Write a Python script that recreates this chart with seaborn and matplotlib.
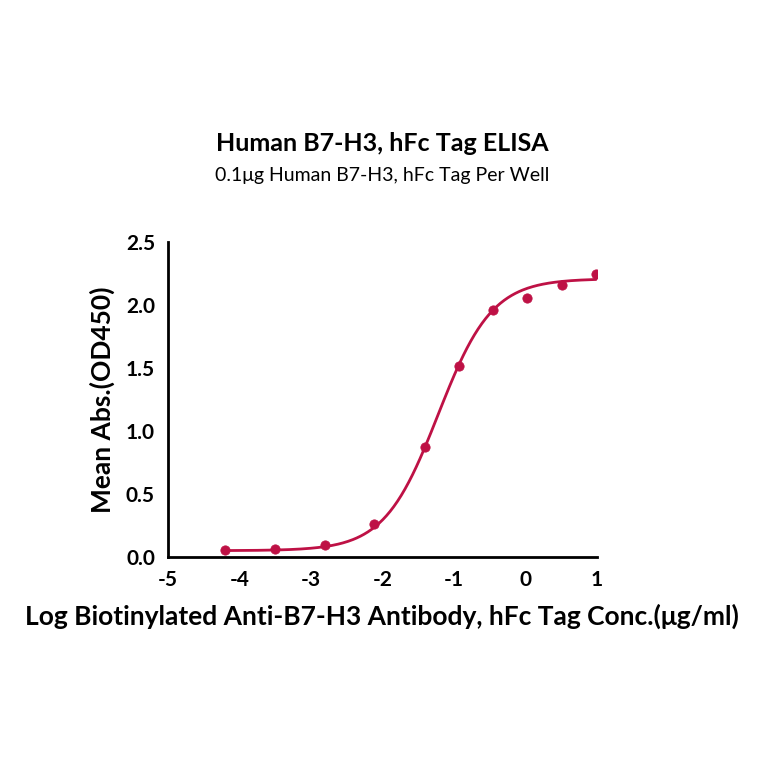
import numpy as np
import pandas as pd
import matplotlib
matplotlib.use("Agg")
import matplotlib.pyplot as plt
import seaborn as sns

log_conc = [-4.2, -3.5, -2.8, -2.12, -1.41, -0.93, -0.45, 0.02, 0.51, 0.99]
mean_abs = [0.056, 0.063, 0.095, 0.26, 0.87, 1.52, 1.96, 2.06, 2.16, 2.25]
# 4PL parameters: bottom, top, logEC50, hill
fit_params = [0.05, 2.21, -1.22, 1.15]

sns.set_style("white")
plt.rcParams['font.family'] = ['Lato', 'DejaVu Sans']
plt.rcParams['text.color'] = 'black'
color = "#BE1145"

fig = plt.figure(figsize=(7.64, 7.64), dpi=100)
ax = fig.add_axes([0.22, 0.271, 0.561, 0.412])

b, t, ec, h = fit_params
xs = np.linspace(min(log_conc), max(log_conc), 300)
ys = b + (t - b) / (1 + 10 ** ((ec - xs) * h))
sns.lineplot(x=xs, y=ys, ax=ax, color=color, lw=2)
sns.scatterplot(x=log_conc, y=mean_abs, ax=ax, color=color, s=45, edgecolor=color, zorder=3)

ax.set_xlim(-5, 1)
ax.set_ylim(0, 2.5)
ax.set_xticks([-5, -4, -3, -2, -1, 0, 1])
ax.set_xticklabels(["-5", "-4", "-3", "-2", "-1", "0", "1"])
ax.set_yticks([0, 0.5, 1.0, 1.5, 2.0, 2.5])
ax.set_yticklabels(["0.0", "0.5", "1.0", "1.5", "2.0", "2.5"])
for s in ["top", "right"]:
    ax.spines[s].set_visible(False)
for s in ["left", "bottom"]:
    ax.spines[s].set_linewidth(2)
    ax.spines[s].set_color("black")
ax.tick_params(axis="both", direction="out", length=6, width=2, labelsize=15,
               color="black", labelcolor="black")
for lab in ax.get_xticklabels() + ax.get_yticklabels():
    lab.set_fontweight("bold")

ax.set_xlabel("Log Biotinylated Anti-B7-H3 Antibody, hFc Tag Conc.(μg/ml)", fontsize=19,
              fontweight="bold", labelpad=10, color="black")
ax.set_ylabel("Mean Abs.(OD450)", fontsize=19, fontweight="bold", labelpad=8, color="black")

fig.text(0.5, 0.812, "Human B7-H3, hFc Tag ELISA", ha="center", va="center", fontsize=18, fontweight="bold")
fig.text(0.5, 0.770, "0.1μg Human B7-H3, hFc Tag Per Well", ha="center", va="center", fontsize=14)

fig.savefig("out.png", dpi=100)
